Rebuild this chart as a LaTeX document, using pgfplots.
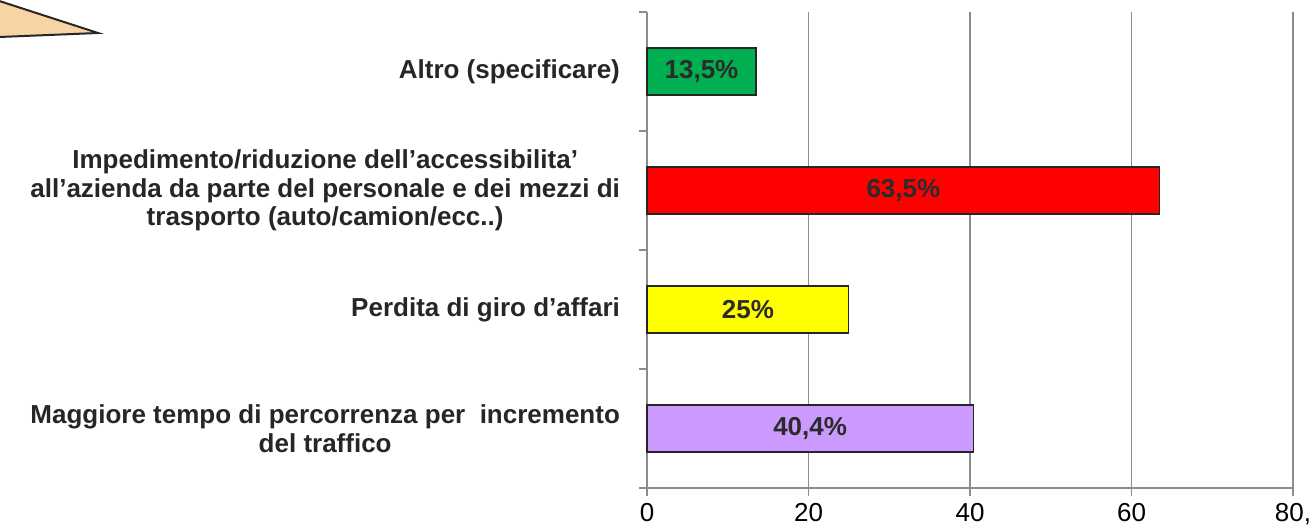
\documentclass[border=0pt]{standalone}
\usepackage{pgfplots}
\pgfplotsset{compat=1.18}
\usepackage{fontspec}
\setmainfont{Liberation Sans}
\definecolor{gridgray}{HTML}{8C8C8C}
\definecolor{barborder}{HTML}{262626}
\definecolor{labeltxt}{HTML}{2B2B2B}
\definecolor{cattxt}{HTML}{262626}
\definecolor{cgreen}{HTML}{00B050}
\definecolor{cred}{HTML}{FF0000}
\definecolor{cyellow}{HTML}{FFFF00}
\definecolor{cpurple}{HTML}{CC99FF}
\definecolor{tan}{HTML}{F7D4A4}
\begin{document}
\begin{tikzpicture}
\path[use as bounding box] (0,0) rectangle (657.5pt,264pt);
\begin{scope}
\clip (0,0) rectangle (657.5pt,264pt);
\draw[line width=1pt, draw=barborder, fill=tan] (-5pt,265pt) -- (49pt,247.5pt) -- (-5pt,245.3pt) -- cycle;
\end{scope}
\begin{axis}[
  at={(323.5pt,20pt)}, anchor=south west,
  scale only axis, width=323pt, height=238pt,
  xmin=0, xmax=80, ymin=-0.5, ymax=3.5,
  axis x line*=bottom, axis y line*=left,
  axis line style={draw=gridgray, line width=0.8pt, -},
  xtick={0,20,40,60,80},
  xticklabels={0,20,40,60,{80,}},
  xmajorgrids,
  major grid style={draw=gridgray, line width=0.8pt},
  tick align=outside,
  major tick length=4pt,
  tick style={draw=gridgray, line width=0.8pt},
  ytick={-0.5,0.5,1.5,2.5,3.5},
  yticklabels={},
  extra y ticks={0,1,2,3},
  extra y tick labels={
    {Maggiore tempo di percorrenza per \ incremento\\del traffico},
    {Perdita di giro d’affari},
    {Impedimento/riduzione dell’accessibilita\char"27\\all’azienda da parte del personale e dei mezzi di\\trasporto (auto/camion/ecc..)},
    {Altro (specificare)}},
  extra y tick style={tick style={draw=none}},
  yticklabel style={align=center, text=cattxt, font=\bfseries\fontsize{13}{14.3}\selectfont, xshift=-6pt},
  xticklabel style={font=\fontsize{13}{15}\selectfont, yshift=0pt},
  /pgf/number format/assume math mode=true,
  xbar, bar width=23.5pt, bar shift=0pt,
  clip=false,
]
\addplot[fill=cpurple, draw=barborder, line width=0.6pt] coordinates {(40.4,0)};
\addplot[fill=cyellow, draw=barborder, line width=0.6pt] coordinates {(25,1)};
\addplot[fill=cred, draw=barborder, line width=0.6pt] coordinates {(63.5,2)};
\addplot[fill=cgreen, draw=barborder, line width=0.6pt] coordinates {(13.5,3)};
\node[font=\bfseries\fontsize{13}{15}\selectfont, text=labeltxt] at (axis cs:20.2,0) {40,4\%};
\node[font=\bfseries\fontsize{13}{15}\selectfont, text=labeltxt] at (axis cs:12.5,1) {25\%};
\node[font=\bfseries\fontsize{13}{15}\selectfont, text=labeltxt] at (axis cs:31.75,2) {63,5\%};
\node[font=\bfseries\fontsize{13}{15}\selectfont, text=labeltxt] at (axis cs:6.75,3) {13,5\%};
\end{axis}
\end{tikzpicture}
\end{document}
